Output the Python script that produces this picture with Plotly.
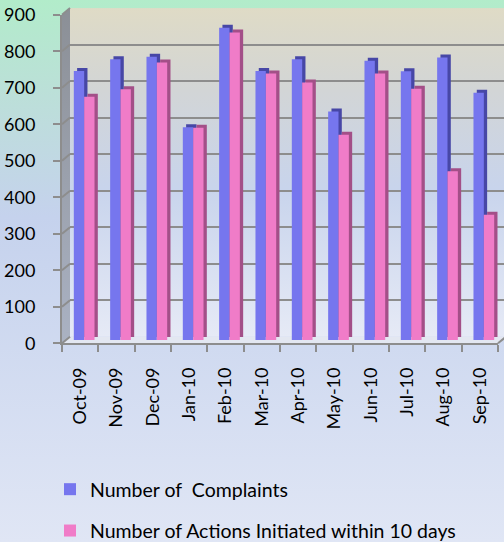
import base64
import plotly.graph_objects as go

# ---------------- data ----------------
months = ["Oct-09", "Nov-09", "Dec-09", "Jan-10", "Feb-10", "Mar-10",
          "Apr-10", "May-10", "Jun-10", "Jul-10", "Aug-10", "Sep-10"]
complaints = [737, 769, 776, 583, 855, 737, 769, 626, 765, 736, 774, 677]
actions = [666, 687, 760, 581, 842, 730, 705, 562, 730, 688, 462, 343]
y_ticks = [0, 100, 200, 300, 400, 500, 600, 700, 800, 900]
series_names = ["Number of  Complaints", "Number of Actions Initiated within 10 days"]

# ---------------- geometry / style ----------------
W, H = 504, 542
FX0, FX1 = 62.0, 498.0          # front floor x span (px)
FY0, FY1 = 343.3, 14.7          # front y px for 0 and max
YMAX = 900
DEPTH = (8.0, -6.6)             # back wall offset
BARSHIFT = (4.0, -3.3)          # bars sit at mid depth
SIDE = (3.3, -3.0)              # bar side/top face depth
FONT = "Lato"
GRID = "#8d8d8d"
BLUE, PINK = "#7676ee", "#f07cc8"
BLUE_D, PINK_D = "#4747a6", "#a34f88"


def xaxis_for(dx):
    left, right = FX0 + dx, FX1 + dx
    n = len(months)
    upp = n / (right - left)
    r0, r1 = -0.5, n - 0.5
    dl, dr = max(left, 0), min(right, W)
    r0 += (dl - left) * upp
    r1 -= (right - dr) * upp
    return dict(domain=[dl / W, dr / W], range=[r0, r1], type="category",
                categoryorder="array", categoryarray=months)


def yaxis_for(dy):
    bottom, top = FY0 + dy, FY1 + dy
    upp = YMAX / (bottom - top)
    r0, r1 = 0, YMAX
    tb, tt = min(bottom, H), max(top, 0)
    r0 += (bottom - tb) * upp
    r1 -= (tt - top) * upp
    return dict(domain=[1 - tb / H, 1 - tt / H], range=[r0, r1])


def yfront(v):
    return FY0 + (FY1 - FY0) * v / YMAX


# ---------------- background (paper gradient, walls, floor) ----------------
side_lines = "".join(
    f"<line x1='{FX0}' y1='{yfront(v):.1f}' x2='{FX0 + DEPTH[0]}' y2='{yfront(v) + DEPTH[1]:.1f}' "
    f"stroke='{GRID}' stroke-width='2'/>" for v in y_ticks)
svg = f"""<svg xmlns='http://www.w3.org/2000/svg' width='{W}' height='{H}' viewBox='0 0 {W} {H}' preserveAspectRatio='none'>
<defs>
<linearGradient id='pg' x1='0' y1='0' x2='0' y2='1'>
<stop offset='0' stop-color='#b2ecca'/>
<stop offset='0.18' stop-color='#bcdfd9'/>
<stop offset='0.40' stop-color='#c5d2ed'/>
<stop offset='1' stop-color='#e0e6f5'/>
</linearGradient>
<linearGradient id='wg' x1='0' y1='0' x2='0' y2='1'>
<stop offset='0' stop-color='#dfdbc6'/>
<stop offset='0.25' stop-color='#d2d5d6'/>
<stop offset='0.55' stop-color='#c8d4ec'/>
<stop offset='1' stop-color='#e6eaf6'/>
</linearGradient>
<linearGradient id='sg' x1='0' y1='0' x2='0' y2='1'>
<stop offset='0' stop-color='#8b8f96'/>
<stop offset='1' stop-color='#aab2c3'/>
</linearGradient>
</defs>
<rect x='0' y='0' width='{W}' height='{H}' fill='url(#pg)'/>
<rect x='{FX0 + DEPTH[0]}' y='{FY1 + DEPTH[1]}' width='{FX1 - FX0 + 10}' height='{FY0 - FY1}' fill='url(#wg)'/>
<polygon points='{FX0},{FY0} {FX0},{FY1} {FX0 + DEPTH[0]},{FY1 + DEPTH[1]} {FX0 + DEPTH[0]},{FY0 + DEPTH[1]}' fill='url(#sg)'/>
<polygon points='{FX0},{FY0} {FX1},{FY0} {FX1 + DEPTH[0]},{FY0 + DEPTH[1]} {FX0 + DEPTH[0]},{FY0 + DEPTH[1]}' fill='#e3e7f1'/>
{side_lines}
<line x1='{FX1}' y1='{FY0}' x2='{FX1 + DEPTH[0]}' y2='{FY0 + DEPTH[1]}' stroke='{GRID}' stroke-width='2'/>
</svg>"""
bg_uri = "data:image/svg+xml;base64," + base64.b64encode(svg.encode()).decode()

# ---------------- traces ----------------
fig = go.Figure()
fig.add_trace(go.Scatter(x=months, y=complaints, mode="markers", marker=dict(opacity=0),
                         showlegend=False, hoverinfo="skip", xaxis="x", yaxis="y"))
for vals, col in [(complaints, BLUE_D), (actions, PINK_D)]:
    fig.add_trace(go.Bar(x=months, y=vals, marker=dict(color=col, line=dict(width=0)),
                         showlegend=False, hoverinfo="skip", xaxis="x2", yaxis="y2"))
for vals, col, name, grp in [(complaints, BLUE, series_names[0], "a"),
                             (actions, PINK, series_names[1], "b")]:
    fig.add_trace(go.Bar(x=months, y=vals, name=name, legendgroup=grp,
                         marker=dict(color=col, line=dict(width=0)),
                         xaxis="x3", yaxis="y3"))
fig.add_trace(go.Scatter(x=months, y=actions, mode="markers", marker=dict(opacity=0),
                         showlegend=False, hoverinfo="skip", xaxis="x4", yaxis="y4"))

hidden = dict(showgrid=False, zeroline=False, showline=False, showticklabels=False,
              ticks="", automargin=False)

xa1 = xaxis_for(DEPTH[0]); ya1 = yaxis_for(DEPTH[1])
xa2 = xaxis_for(BARSHIFT[0] + SIDE[0]); ya2 = yaxis_for(BARSHIFT[1] + SIDE[1])
xa3 = xaxis_for(BARSHIFT[0]); ya3 = yaxis_for(BARSHIFT[1])
xa4 = xaxis_for(0); ya4 = yaxis_for(0)

fig.update_layout(
    width=W, height=H,
    margin=dict(l=0, r=0, t=0, b=0, pad=0, autoexpand=False),
    paper_bgcolor="rgba(0,0,0,0)", plot_bgcolor="rgba(0,0,0,0)",
    barmode="group", bargap=0.43, bargroupgap=0,
    font=dict(family=FONT, size=18, color="#000000"),
    images=[dict(source=bg_uri, xref="paper", yref="paper", x=0, y=1, sizex=1, sizey=1,
                 xanchor="left", yanchor="top", sizing="stretch", layer="below")],
    xaxis=dict(**xa1, anchor="y", **hidden),
    yaxis=dict(**ya1, anchor="x", showgrid=True, gridcolor=GRID, gridwidth=2, dtick=100,
               tick0=0, zeroline=False, showline=False, showticklabels=False, ticks="",
               automargin=False),
    xaxis2=dict(**xa2, anchor="y2", **hidden),
    yaxis2=dict(**ya2, anchor="x2", **hidden),
    xaxis3=dict(**xa3, anchor="y3", **hidden),
    yaxis3=dict(**ya3, anchor="x3", **hidden),
    xaxis4=dict(**xa4, anchor="y4", showgrid=False, zeroline=False, showline=True,
                linecolor=GRID, linewidth=2, ticks="outside", tickson="boundaries",
                ticklen=7, tickwidth=2, tickcolor=GRID, tickangle=-90, automargin=False,
                ticklabelstandoff=15, tickfont=dict(family=FONT, size=18, color="#000000")),
    yaxis4=dict(**ya4, anchor="x4", showgrid=False, zeroline=False, showline=True,
                linecolor=GRID, linewidth=2, ticks="outside", ticklen=7, tickwidth=2,
                tickcolor=GRID, tickvals=y_ticks, ticklabelstandoff=14, automargin=False,
                tickfont=dict(family=FONT, size=18, color="#000000")),
    showlegend=True,
    legend=dict(x=50 / W, xanchor="left", y=-8 / H, yanchor="bottom",
                orientation="v", traceorder="grouped", tracegroupgap=13,
                bgcolor="rgba(0,0,0,0)", font=dict(family=FONT, size=19.5, color="#000000")),
)

fig.write_html("out.html", config={"displayModeBar": False},
               post_script="document.body.style.margin='0';")
